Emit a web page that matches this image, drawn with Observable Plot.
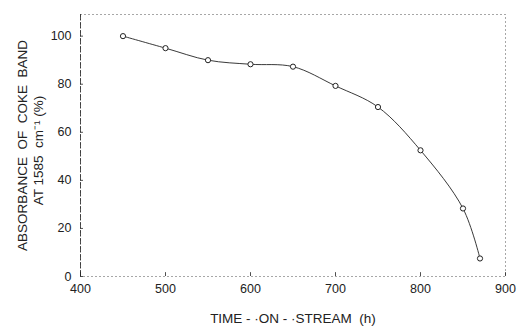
<!DOCTYPE html>
<html><head><meta charset="utf-8">
<script src="https://cdn.jsdelivr.net/npm/d3@7"></script>
<script src="https://cdn.jsdelivr.net/npm/@observablehq/plot@0.6"></script>
<style>
body{margin:0;background:#fff;}
svg{font-family:"Liberation Sans",Arial,sans-serif;}
</style></head><body>
<div id="chart"></div>
<script>
const time = [450, 500, 550, 600, 650, 700, 750, 800, 850, 870];
const absorbance = [100, 95, 90, 88.3, 87.3, 79.3, 70.5, 52.5, 28.3, 7.5];
const xTicks = [400, 500, 600, 700, 800, 900];
const yTicks = [0, 20, 40, 60, 80, 100];
const yLabelLines = ["ABSORBANCE  OF  COKE  BAND", "AT 1585  cm\u207B\u00B9 (%)"];
const xLabel = "TIME - \u00B7ON - \u00B7STREAM  (h)";

const data = time.map((t, i) => ({t, a: absorbance[i]}));
const ink = "#222";

const chart = Plot.plot({
  width: 517, height: 329,
  marginLeft: 80, marginRight: 12, marginTop: 14, marginBottom: 53,
  x: {domain: [400, 900], axis: null},
  y: {domain: [0, 109], axis: null},
  style: {fontSize: "12px", color: ink, background: "#fff"},
  marks: [
    Plot.frame({stroke: ink, strokeDasharray: "1,3", strokeWidth: 0.8}),
    Plot.ruleX([400], {stroke: ink, strokeWidth: 0.8, strokeDasharray: "6,2"}),
    Plot.text(xTicks, {x: d => d, frameAnchor: "bottom", dy: 16, fill: ink, fontSize: 12.5}),
    Plot.text(yTicks, {y: d => d, frameAnchor: "left", textAnchor: "end", dx: -9, fill: ink, fontSize: 12.5}),
    Plot.ruleX(xTicks, {x: d => d, y1: 0, y2: 1.6, stroke: ink, strokeWidth: 0.8}),
    Plot.ruleY(yTicks, {y: d => d, x1: 400, x2: 403.5, stroke: ink, strokeWidth: 0.8}),
    Plot.line(data, {x: "t", y: "a", curve: "catmull-rom", stroke: ink, strokeWidth: 0.9}),
    Plot.dot(data, {x: "t", y: "a", r: 2.6, stroke: ink, fill: "#fff", strokeWidth: 1}),
    Plot.text([xLabel], {frameAnchor: "bottom", dy: 46, dx: 0, fill: ink, fontSize: 13.5}),
    Plot.text([yLabelLines[0]], {frameAnchor: "left", textAnchor: "middle", dx: -58, dy: 0, rotate: -90, fill: ink, fontSize: 13.5}),
    Plot.text([yLabelLines[1]], {frameAnchor: "left", textAnchor: "middle", dx: -42, dy: 5, rotate: -90, fill: ink, fontSize: 13.5})
  ]
});
document.getElementById("chart").append(chart);
</script>
</body></html>
